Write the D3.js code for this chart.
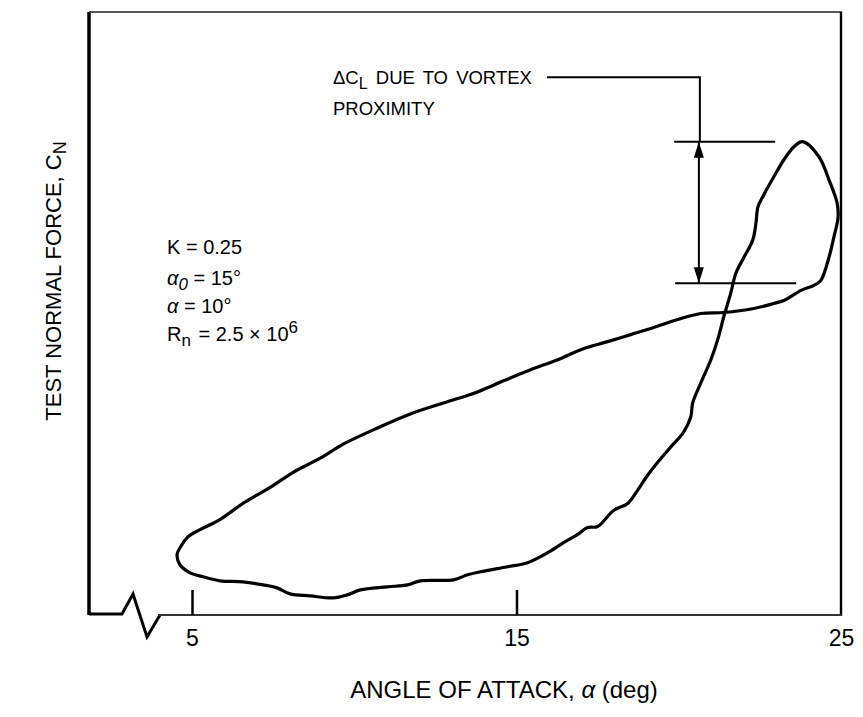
<!DOCTYPE html>
<html><head><meta charset="utf-8">
<script src="https://cdn.jsdelivr.net/npm/d3@7"></script>
<style>
body{margin:0;background:#fff}
text{font-family:"Liberation Sans",Arial,Helvetica,sans-serif;fill:#000}
</style>
</head><body>
<svg id="c" width="863" height="717"></svg>
<script>
// ---- data (angle of attack in deg, normal force in arbitrary units) ----
const alphaDeg = [23.82,24.32,24.63,24.88,24.91,24.78,24.63,24.38,24.17,23.77,23.24,22.93,22.31,21.39,20.68,19.97,19.23,18.52,17.81,16.98,16.27,15.43,14.60,13.80,12.75,11.73,10.71,9.66,8.95,8.12,7.41,6.57,5.86,5.25,4.88,4.69,4.54,4.63,4.94,5.34,5.86,6.57,7.19,7.62,8.02,8.64,9.35,9.78,10.19,11.02,11.64,12.04,13.06,13.49,13.89,14.72,15.34,15.96,16.45,16.88,17.19,17.50,17.99,18.43,18.73,19.04,19.35,19.75,20.15,20.37,20.43,20.68,20.99,21.20,21.39,21.60,21.76,22.01,22.28,22.38,22.44,22.62,22.93,23.24,23.55];
const normalForce = [4.71,4.56,4.33,4.10,3.96,3.76,3.56,3.33,3.28,3.23,3.13,3.10,3.05,3.01,3.00,2.94,2.86,2.79,2.72,2.64,2.54,2.44,2.33,2.22,2.11,2.00,1.86,1.70,1.56,1.42,1.27,1.11,0.95,0.85,0.78,0.70,0.60,0.50,0.42,0.38,0.34,0.33,0.30,0.27,0.21,0.19,0.17,0.20,0.25,0.28,0.30,0.34,0.35,0.40,0.43,0.48,0.52,0.62,0.72,0.80,0.87,0.88,1.04,1.11,1.24,1.39,1.52,1.67,1.82,1.97,2.11,2.31,2.54,2.74,2.97,3.20,3.40,3.56,3.73,3.90,4.06,4.18,4.36,4.53,4.66];
const xTickValues = [5, 15, 25];
const xTickLabels = ["5", "15", "25"];
// annotation: delta C_L bracket (deg, CN)
const bracketX = [20.62];
const bracketLevels = [4.71, 3.30];
const bracketUpperSpan = [19.86, 22.97];
const bracketLowerSpan = [19.89, 23.62];
const leaderStartX = [15.94];
const leaderY = [5.35];

const svg = d3.select("#c");
const x = d3.scaleLinear().domain([5, 25]).range([192, 841]);
const y = d3.scaleLinear().domain([0, 6]).range([615, 12]);

const L = 89, R = 841, T = 12, B = 615;

// frame
svg.append("line").attr("x1", L).attr("y1", T).attr("x2", L).attr("y2", B)
  .attr("stroke", "#000").attr("stroke-width", 3.5);
svg.append("line").attr("x1", L).attr("y1", T).attr("x2", R + 1).attr("y2", T)
  .attr("stroke", "#222").attr("stroke-width", 1.6);
svg.append("line").attr("x1", R).attr("y1", T).attr("x2", R).attr("y2", B + 1)
  .attr("stroke", "#000").attr("stroke-width", 2.4);
// bottom with break
svg.append("path")
  .attr("d", `M${L},${B - 1}L122,${B - 1}L133,594L147,637L160,${B}`)
  .attr("fill", "none").attr("stroke", "#000").attr("stroke-width", 3).attr("stroke-linejoin", "miter");
svg.append("line").attr("x1", 158).attr("y1", B).attr("x2", R + 1).attr("y2", B)
  .attr("stroke", "#333").attr("stroke-width", 2);

// x axis ticks
const axis = d3.axisBottom(x).tickValues(xTickValues)
  .tickFormat((d, i) => xTickLabels[i]).tickSizeInner(-25).tickSizeOuter(0).tickPadding(15);
const ga = svg.append("g").attr("transform", `translate(0,${B})`).call(axis);
ga.select(".domain").remove();
ga.selectAll(".tick line").attr("stroke", "#000").attr("stroke-width", 2.5)
  .filter(d => d === 25).remove();
ga.selectAll(".tick text").attr("font-size", 23).attr("font-family", "Liberation Sans, Arial, sans-serif").attr("fill", "#000");

// loop curve
const pts = alphaDeg.map((a, i) => [a, normalForce[i]]);
svg.append("path").datum(pts)
  .attr("d", d3.line().x(d => x(d[0])).y(d => y(d[1])).curve(d3.curveCatmullRomClosed.alpha(0.5)))
  .attr("fill", "none").attr("stroke", "#000").attr("stroke-width", 3.2).attr("stroke-linejoin", "round");

// arrow markers
const defs = svg.append("defs");
defs.append("marker").attr("id", "ah").attr("viewBox", "0 0 16 10").attr("refX", 16).attr("refY", 5)
  .attr("markerWidth", 16).attr("markerHeight", 10).attr("markerUnits", "userSpaceOnUse")
  .attr("orient", "auto-start-reverse")
  .append("path").attr("d", "M0,0L16,5L0,10Z").attr("fill", "#000");

// bracket lines
svg.append("line").attr("x1", x(bracketUpperSpan[0])).attr("x2", x(bracketUpperSpan[1]))
  .attr("y1", y(bracketLevels[0])).attr("y2", y(bracketLevels[0])).attr("stroke", "#000").attr("stroke-width", 2);
svg.append("line").attr("x1", x(bracketLowerSpan[0])).attr("x2", x(bracketLowerSpan[1]))
  .attr("y1", y(bracketLevels[1])).attr("y2", y(bracketLevels[1])).attr("stroke", "#000").attr("stroke-width", 2);
svg.append("line").attr("x1", x(bracketX[0])).attr("x2", x(bracketX[0]))
  .attr("y1", y(bracketLevels[0])).attr("y2", y(bracketLevels[1]))
  .attr("stroke", "#000").attr("stroke-width", 2)
  .attr("marker-start", "url(#ah)").attr("marker-end", "url(#ah)");
// leader
svg.append("path")
  .attr("d", `M${x(leaderStartX[0])},${y(leaderY[0])}L${x(bracketX[0]) + 1},${y(leaderY[0])}L${x(bracketX[0]) + 1},${y(bracketLevels[0])}`)
  .attr("fill", "none").attr("stroke", "#000").attr("stroke-width", 2);

// annotation text
const ann = svg.append("text").attr("x", 333).attr("y", 84).attr("font-size", 18.5).attr("word-spacing", 3);
ann.append("tspan").text("\u0394C");
ann.append("tspan").attr("baseline-shift", "-30%").attr("font-size", 16).text("L");
ann.append("tspan").text(" DUE TO VORTEX");
svg.append("text").attr("x", 333).attr("y", 115).attr("font-size", 18.5).text("PROXIMITY");

// parameters block
const fs = 20;
svg.append("text").attr("x", 167).attr("y", 254).attr("font-size", fs).text("K = 0.25");
const p2 = svg.append("text").attr("x", 167).attr("y", 285).attr("font-size", fs);
p2.append("tspan").attr("font-style", "italic").text("\u03B1");
p2.append("tspan").attr("font-style", "italic").attr("baseline-shift", "-30%").attr("font-size", 17).text("0");
p2.append("tspan").text(" = 15\u00B0");
const p3 = svg.append("text").attr("x", 167).attr("y", 313).attr("font-size", fs);
p3.append("tspan").attr("font-style", "italic").text("\u03B1");
p3.append("tspan").text(" = 10\u00B0");
const p4 = svg.append("text").attr("x", 167).attr("y", 341).attr("font-size", fs);
p4.append("tspan").text("R");
p4.append("tspan").attr("baseline-shift", "-30%").attr("font-size", 17).text("n");
p4.append("tspan").attr("dx", 2).text(" = 2.5 \u00D7 10");
p4.append("tspan").attr("baseline-shift", "45%").attr("font-size", 17).text("6");

// axis titles
const xt = svg.append("text").attr("x", 504).attr("y", 698).attr("text-anchor", "middle").attr("font-size", 24);
xt.append("tspan").text("ANGLE OF ATTACK, ");
xt.append("tspan").attr("font-style", "italic").text("\u03B1");
xt.append("tspan").text(" (deg)");

const yt = svg.append("text").attr("transform", "translate(61,281) rotate(-90)")
  .attr("text-anchor", "middle").attr("font-size", 22);
yt.append("tspan").text("TEST NORMAL FORCE, C");
yt.append("tspan").attr("baseline-shift", "-25%").attr("font-size", 18).text("N");
</script>
</body></html>
